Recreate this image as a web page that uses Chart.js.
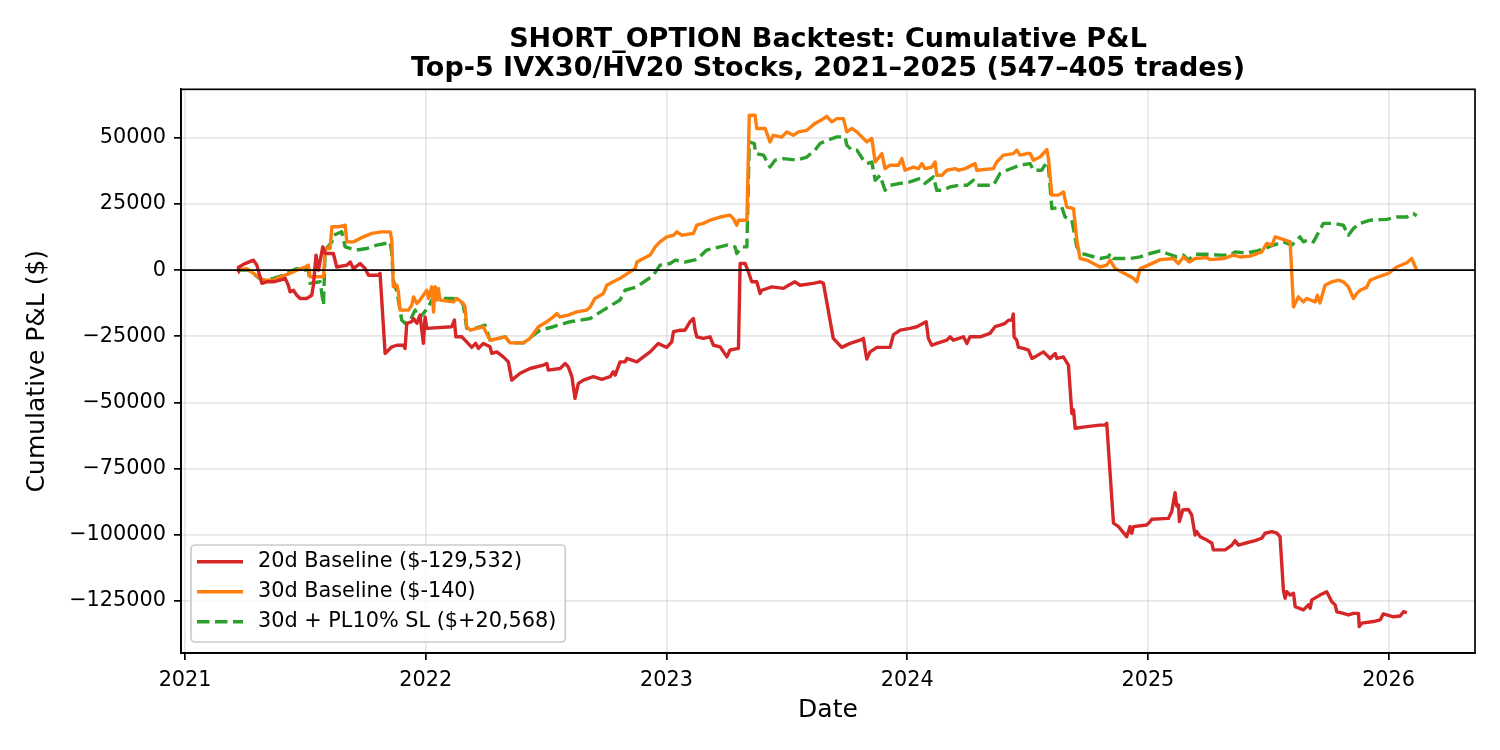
<!DOCTYPE html>
<html>
<head>
<meta charset="utf-8">
<script src="https://cdn.jsdelivr.net/npm/chart.js@4.4.1/dist/chart.umd.min.js"></script>
<style>
  html, body { margin: 0; padding: 0; background: #ffffff; }
  #wrap { width: 1500px; height: 750px; position: relative; }
</style>
</head>
<body>
<div id="wrap"><canvas id="c"></canvas></div>
<script>
// ---------- text ----------
const titleLines = ['SHORT_OPTION Backtest: Cumulative P&L', 'Top-5 IVX30/HV20 Stocks, 2021\u20132025 (547\u2013405 trades)'];
const xAxisTitle = 'Date';
const yAxisTitle = 'Cumulative P&L ($)';
const seriesLabels = ['20d Baseline ($-129,532)', '30d Baseline ($-140)', '30d + PL10% SL ($+20,568)'];

// ---------- ticks ----------
const xTickYears = [2021, 2022, 2023, 2024, 2025, 2026];
const yTickValues = [-125000, -100000, -75000, -50000, -25000, 0, 25000, 50000];

// ---------- series: 20d baseline (dates as decimal years, P&L in $) ----------
const red20dYears = [
  2021.220, 2021.222, 2021.249, 2021.284, 2021.298, 2021.319, 2021.339, 2021.367, 2021.395, 2021.416,
  2021.429, 2021.436, 2021.450, 2021.464, 2021.478, 2021.506, 2021.526, 2021.533, 2021.544, 2021.554,
  2021.572, 2021.582, 2021.616, 2021.630, 2021.672, 2021.686, 2021.699, 2021.727, 2021.748, 2021.762,
  2021.803, 2021.810, 2021.831, 2021.859, 2021.880, 2021.907, 2021.914, 2021.921, 2021.942, 2021.949,
  2021.963, 2021.976, 2021.990, 2021.997, 2022.004, 2022.108, 2022.119, 2022.125, 2022.150, 2022.163,
  2022.191, 2022.207, 2022.219, 2022.239, 2022.267, 2022.274, 2022.295, 2022.322, 2022.343, 2022.357,
  2022.392, 2022.433, 2022.489, 2022.503, 2022.509, 2022.558, 2022.579, 2022.592, 2022.607, 2022.620,
  2022.634, 2022.655, 2022.696, 2022.731, 2022.766, 2022.779, 2022.787, 2022.807, 2022.828, 2022.835,
  2022.877, 2022.904, 2022.932, 2022.966, 2022.981, 2023.001, 2023.022, 2023.029, 2023.057, 2023.077,
  2023.098, 2023.112, 2023.119, 2023.126, 2023.153, 2023.181, 2023.195, 2023.223, 2023.251, 2023.264,
  2023.299, 2023.306, 2023.327, 2023.340, 2023.354, 2023.375, 2023.389, 2023.396, 2023.438, 2023.486,
  2023.507, 2023.534, 2023.555, 2023.610, 2023.638, 2023.652, 2023.693, 2023.728, 2023.763, 2023.804,
  2023.818, 2023.832, 2023.846, 2023.874, 2023.929, 2023.943, 2023.971, 2024.012, 2024.040, 2024.067,
  2024.079, 2024.088, 2024.102, 2024.123, 2024.165, 2024.178, 2024.192, 2024.234, 2024.248, 2024.261,
  2024.303, 2024.344, 2024.365, 2024.386, 2024.407, 2024.421, 2024.435, 2024.441, 2024.444, 2024.455,
  2024.462, 2024.483, 2024.504, 2024.518, 2024.531, 2024.566, 2024.594, 2024.615, 2024.622, 2024.649,
  2024.670, 2024.684, 2024.691, 2024.698, 2024.746, 2024.801, 2024.822, 2024.829, 2024.857, 2024.878,
  2024.912, 2024.926, 2024.933, 2024.940, 2024.995, 2025.009, 2025.016, 2025.085, 2025.099, 2025.113,
  2025.120, 2025.127, 2025.131, 2025.145, 2025.168, 2025.182, 2025.196, 2025.203, 2025.217, 2025.245,
  2025.266, 2025.272, 2025.321, 2025.349, 2025.362, 2025.376, 2025.411, 2025.445, 2025.473, 2025.487,
  2025.515, 2025.536, 2025.549, 2025.563, 2025.570, 2025.577, 2025.591, 2025.605, 2025.612, 2025.646,
  2025.667, 2025.674, 2025.681, 2025.715, 2025.743, 2025.764, 2025.778, 2025.785, 2025.812, 2025.833,
  2025.854, 2025.875, 2025.878, 2025.889, 2025.937, 2025.965, 2025.978, 2026.020, 2026.048, 2026.062,
  2026.076
];
const red20dPnL = [
  -800, 1100, 2500, 3800, 1900, -5000, -4400, -4400, -3800, -3100,
  -5700, -8200, -7600, -9500, -10700, -10700, -9500, -5700, 5700, 0,
  8800, 6300, 6300, 1200, 1900, 3100, 600, 2500, 600, -1900,
  -1900, -1200, -31500, -29000, -28400, -28400, -29600, -20100, -19500, -18300,
  -20100, -17000, -27700, -17700, -22000, -21400, -18900, -25200, -25200, -26500,
  -29200, -27700, -29600, -27700, -29000, -31500, -30900, -32800, -34700, -41600,
  -39000, -37200, -35900, -35300, -37800, -37200, -35300, -36600, -40300, -48500,
  -42800, -41600, -40300, -41300, -40300, -38400, -39700, -34700, -34700, -33400,
  -34700, -32800, -30900, -27700, -28400, -29200, -27100, -23300, -22700, -22700,
  -19500, -18300, -22700, -25200, -25800, -25200, -28400, -29000, -32800, -30200,
  -29600, 2500, 2500, -600, -4400, -4400, -8800, -7600, -6300, -6900,
  -5700, -4400, -5700, -5000, -4400, -5000, -25800, -29200, -27700, -26500,
  -25800, -33600, -30900, -29200, -29200, -24400, -22700, -22000, -21400, -20100,
  -19500, -25800, -28400, -27700, -26500, -25200, -26500, -25200, -27700, -25200,
  -25200, -23900, -21400, -20800, -20100, -18900, -18900, -16600, -25200, -26500,
  -29200, -29600, -30200, -33400, -32800, -30900, -33400, -31500, -33400, -32800,
  -35900, -54200, -52900, -59800, -59200, -58600, -58600, -57900, -95700, -97000,
  -100800, -97000, -99500, -97000, -96400, -95100, -94200, -93900, -91400, -84200,
  -89200, -88800, -95100, -90700, -90500, -92600, -100200, -98900, -100800, -102100,
  -103300, -105800, -105800, -104000, -102300, -104000, -103100, -102300, -101400, -99500,
  -98900, -99500, -100800, -121000, -124100, -121600, -122900, -122200, -127300, -128500,
  -126600, -127900, -124700, -122900, -121600, -125400, -126600, -129200, -129800, -130400,
  -129800, -129800, -134800, -133500, -132900, -132300, -130000, -131100, -130800, -129200,
  -129532
];

// ---------- series: 30d baseline ----------
const orange30dYears = [
  2021.220, 2021.256, 2021.305, 2021.325, 2021.367, 2021.395, 2021.436, 2021.464, 2021.499, 2021.512,
  2021.519, 2021.575, 2021.582, 2021.602, 2021.610, 2021.637, 2021.665, 2021.672, 2021.699, 2021.741,
  2021.776, 2021.817, 2021.852, 2021.859, 2021.865, 2021.880, 2021.886, 2021.893, 2021.928, 2021.942,
  2021.949, 2021.963, 2021.976, 2022.004, 2022.011, 2022.025, 2022.032, 2022.039, 2022.046, 2022.052,
  2022.059, 2022.115, 2022.129, 2022.156, 2022.163, 2022.170, 2022.184, 2022.212, 2022.239, 2022.267,
  2022.330, 2022.350, 2022.406, 2022.433, 2022.468, 2022.503, 2022.530, 2022.544, 2022.558, 2022.592,
  2022.627, 2022.669, 2022.683, 2022.703, 2022.738, 2022.752, 2022.779, 2022.807, 2022.849, 2022.870,
  2022.877, 2022.904, 2022.932, 2022.953, 2022.973, 2023.001, 2023.029, 2023.043, 2023.064, 2023.112,
  2023.126, 2023.153, 2023.181, 2023.223, 2023.264, 2023.278, 2023.292, 2023.299, 2023.334, 2023.344,
  2023.368, 2023.375, 2023.410, 2023.430, 2023.444, 2023.479, 2023.500, 2023.527, 2023.548, 2023.583,
  2023.617, 2023.652, 2023.666, 2023.687, 2023.708, 2023.735, 2023.749, 2023.770, 2023.791, 2023.832,
  2023.853, 2023.867, 2023.895, 2023.908, 2023.929, 2023.964, 2023.978, 2023.991, 2024.026, 2024.047,
  2024.061, 2024.074, 2024.102, 2024.116, 2024.123, 2024.144, 2024.165, 2024.199, 2024.213, 2024.241,
  2024.282, 2024.289, 2024.358, 2024.372, 2024.400, 2024.441, 2024.455, 2024.469, 2024.497, 2024.511,
  2024.524, 2024.552, 2024.580, 2024.587, 2024.601, 2024.628, 2024.649, 2024.663, 2024.691, 2024.705,
  2024.718, 2024.746, 2024.801, 2024.829, 2024.843, 2024.864, 2024.940, 2024.954, 2024.968, 2025.002,
  2025.051, 2025.106, 2025.127, 2025.148, 2025.172, 2025.196, 2025.245, 2025.258, 2025.314, 2025.355,
  2025.383, 2025.425, 2025.473, 2025.494, 2025.515, 2025.529, 2025.549, 2025.591, 2025.605, 2025.625,
  2025.646, 2025.660, 2025.695, 2025.704, 2025.715, 2025.736, 2025.764, 2025.792, 2025.812, 2025.833,
  2025.854, 2025.868, 2025.882, 2025.909, 2025.923, 2025.958, 2025.999, 2026.034, 2026.076, 2026.096,
  2026.117
];
const orange30dPnL = [
  0, 600, -2500, -3800, -3800, -2500, -1200, 0, 1200, 1900,
  -2500, -2500, 8200, 8200, 16400, 16400, 17000, 10700, 10700, 12600,
  13900, 14500, 14500, 11300, -6300, -5700, -8200, -15100, -15100, -13200,
  -10100, -12600, -11300, -7600, -10700, -6300, -15800, -6300, -11300, -6900,
  -11300, -12000, -10700, -12600, -13900, -21400, -22700, -22000, -21400, -26500,
  -25200, -27500, -27500, -25800, -21400, -19500, -17700, -16400, -17700, -17000,
  -15800, -15100, -13900, -10700, -8800, -5700, -4400, -3100, -600, 600,
  3100, 4400, 5700, 8800, 10700, 12600, 13200, 14500, 13200, 13900,
  17000, 17700, 18900, 20100, 20800, 19500, 17000, 18900, 18900, 58600,
  58600, 53600, 53600, 48500, 51000, 50300, 52300, 51000, 52300, 52900,
  55500, 57300, 58200, 56100, 57300, 57300, 52300, 53600, 52300, 48500,
  49800, 40900, 44100, 38400, 39700, 39700, 42200, 37800, 39000, 38400,
  40300, 38400, 39000, 40900, 35900, 35900, 37800, 38400, 37800, 38400,
  40300, 37800, 38400, 40900, 43500, 44100, 45400, 43500, 44100, 44100,
  41600, 42800, 45600, 42200, 28400, 28400, 29600, 23900, 23300, 11300,
  4400, 3800, 1200, 1900, 3800, 600, -3100, -4400, 600, 1900,
  4000, 4400, 2500, 5000, 3100, 4400, 4800, 4000, 4400, 5700,
  5000, 5300, 6900, 10100, 9500, 12600, 12000, 10700, -13900, -10100,
  -12000, -10700, -12000, -9500, -12400, -5700, -4400, -3800, -4400, -6300,
  -10700, -8800, -7600, -6500, -3800, -2500, -1200, 1200, 2800, 4400,
  -140
];

// ---------- series: 30d + PL10% stop loss ----------
const green30dSLYears = [
  2021.220, 2021.263, 2021.291, 2021.319, 2021.367, 2021.408, 2021.464, 2021.499, 2021.512, 2021.519,
  2021.561, 2021.575, 2021.582, 2021.610, 2021.616, 2021.651, 2021.665, 2021.686, 2021.713, 2021.755,
  2021.776, 2021.796, 2021.831, 2021.852, 2021.859, 2021.865, 2021.880, 2021.886, 2021.900, 2021.914,
  2021.935, 2021.956, 2021.969, 2021.990, 2022.011, 2022.025, 2022.052, 2022.108, 2022.143, 2022.156,
  2022.170, 2022.205, 2022.246, 2022.267, 2022.330, 2022.350, 2022.406, 2022.447, 2022.475, 2022.530,
  2022.600, 2022.683, 2022.738, 2022.807, 2022.828, 2022.877, 2022.946, 2022.973, 2023.015, 2023.036,
  2023.077, 2023.126, 2023.167, 2023.251, 2023.285, 2023.292, 2023.313, 2023.334, 2023.344, 2023.365,
  2023.370, 2023.403, 2023.430, 2023.451, 2023.486, 2023.541, 2023.583, 2023.617, 2023.638, 2023.666,
  2023.708, 2023.742, 2023.749, 2023.770, 2023.791, 2023.818, 2023.832, 2023.853, 2023.867, 2023.887,
  2023.908, 2023.929, 2023.971, 2024.012, 2024.054, 2024.074, 2024.109, 2024.123, 2024.150, 2024.178,
  2024.213, 2024.248, 2024.275, 2024.289, 2024.358, 2024.386, 2024.414, 2024.469, 2024.511, 2024.524,
  2024.559, 2024.580, 2024.587, 2024.601, 2024.642, 2024.656, 2024.684, 2024.705, 2024.725, 2024.801,
  2024.836, 2024.843, 2024.857, 2024.926, 2024.968, 2025.009, 2025.051, 2025.079, 2025.120, 2025.148,
  2025.168, 2025.196, 2025.245, 2025.300, 2025.342, 2025.362, 2025.411, 2025.453, 2025.487, 2025.522,
  2025.563, 2025.598, 2025.632, 2025.646, 2025.667, 2025.688, 2025.729, 2025.771, 2025.812, 2025.833,
  2025.854, 2025.882, 2025.923, 2025.993, 2026.034, 2026.076, 2026.103, 2026.117
];
const green30dSLPnL = [
  0, 0, -1900, -3800, -3100, -1900, 600, 0, 600, -5000,
  -4400, -13200, 7600, 10700, 13200, 14500, 8800, 8200, 7600, 8200,
  8800, 9500, 10100, 10700, 6300, -3800, -8200, -11300, -18900, -20100,
  -18900, -15100, -18300, -16400, -13900, -11300, -10700, -10700, -11300, -13200,
  -22000, -22000, -20800, -26500, -25200, -27500, -27500, -24600, -22700, -21400,
  -19500, -18300, -15100, -11300, -7600, -6300, -1900, 1900, 2500, 3800,
  3100, 4000, 7600, 9500, 8800, 6300, 8800, 8800, 48500, 47900,
  44100, 43500, 39000, 41600, 42200, 41600, 42800, 45400, 47900, 49100,
  50400, 50400, 47300, 45400, 45400, 41600, 40300, 40900, 34000, 35900,
  30200, 32100, 32800, 33400, 34700, 32800, 35300, 30200, 30200, 31500,
  32100, 32100, 34000, 32100, 32100, 36600, 37800, 39700, 40300, 37800,
  37800, 40900, 39000, 23300, 23900, 20100, 18900, 8800, 6300, 4400,
  5000, 6300, 4400, 4400, 5000, 6300, 7300, 6300, 5000, 5700,
  3800, 6000, 6000, 5700, 5700, 6900, 6500, 7300, 8200, 9500,
  10700, 9500, 12600, 10700, 11600, 10700, 17700, 17700, 17000, 13200,
  15800, 17700, 18900, 19200, 20100, 20100, 21400, 20568
];

// ---------- axis ranges ----------
const xRange = [2020.983, 2026.359];
const yRange = [-144800, 68400];

const toPoints = (xs, ys) => xs.map((x, i) => ({ x: x, y: ys[i] }));

Chart.defaults.font.family = "'DejaVu Sans', sans-serif";
Chart.defaults.color = '#000000';

const frameAndZero = {
  id: 'frameAndZero',
  afterDatasetsDraw(chart) {
    const { ctx, chartArea: a, scales } = chart;
    const y0 = scales.y.getPixelForValue(0);
    ctx.save();
    ctx.strokeStyle = '#000000';
    ctx.lineWidth = 1.7;
    ctx.beginPath();
    ctx.moveTo(a.left, y0);
    ctx.lineTo(a.right, y0);
    ctx.stroke();
    ctx.strokeRect(a.left, a.top, a.right - a.left, a.bottom - a.top);
    ctx.restore();
  }
};

const boxLegend = {
  id: 'boxLegend',
  afterDraw(chart) {
    const { ctx, chartArea: a } = chart;
    const fontPx = 20.8;
    ctx.save();
    ctx.font = fontPx + "px 'DejaVu Sans', sans-serif";
    const maxW = Math.max(...chart.data.datasets.map(d => ctx.measureText(d.label).width));
    const left = a.left + 10;
    const bottom = a.bottom - 11;
    const rowH = 30;
    const h = 97;
    const top = bottom - h;
    const textX = left + 67;
    const w = (textX - left) + maxW + 9;
    ctx.beginPath();
    if (ctx.roundRect) ctx.roundRect(left, top, w, h, 4); else ctx.rect(left, top, w, h);
    ctx.fillStyle = 'rgba(255,255,255,0.8)';
    ctx.fill();
    ctx.strokeStyle = '#cccccc';
    ctx.lineWidth = 1.7;
    ctx.stroke();
    chart.data.datasets.forEach((d, i) => {
      const cy = top + 16.7 + i * rowH;
      ctx.beginPath();
      ctx.strokeStyle = d.borderColor;
      ctx.lineWidth = d.borderWidth;
      ctx.lineCap = 'butt';
      ctx.setLineDash(d.borderDash || []);
      ctx.moveTo(left + 6, cy);
      ctx.lineTo(left + 52, cy);
      ctx.stroke();
      ctx.setLineDash([]);
      ctx.fillStyle = '#000000';
      ctx.textAlign = 'left';
      ctx.textBaseline = 'middle';
      ctx.fillText(d.label, textX, cy);
    });
    ctx.restore();
  }
};

new Chart(document.getElementById('c'), {
  type: 'line',
  data: {
    datasets: [
      { label: seriesLabels[0], data: toPoints(red20dYears, red20dPnL), borderColor: '#d62728', borderWidth: 3.4,
        pointRadius: 0, tension: 0, fill: false, borderJoinStyle: 'round' },
      { label: seriesLabels[1], data: toPoints(orange30dYears, orange30dPnL), borderColor: '#ff7f0e', borderWidth: 3.4,
        pointRadius: 0, tension: 0, fill: false, borderJoinStyle: 'round' },
      { label: seriesLabels[2], data: toPoints(green30dSLYears, green30dSLPnL), borderColor: '#2ca02c', borderWidth: 3.4,
        borderDash: [12.5, 5.5], pointRadius: 0, tension: 0, fill: false, borderJoinStyle: 'round' }
    ]
  },
  options: {
    responsive: true,
    maintainAspectRatio: false,
    animation: false,
    devicePixelRatio: 1,
    layout: { padding: { left: 0, right: 25, top: 0, bottom: 0 } },
    plugins: {
      legend: { display: false },
      tooltip: { enabled: false },
      title: {
        display: true,
        text: titleLines,
        fullSize: false,
        color: '#000000',
        font: { size: 27, weight: 'bold', lineHeight: 1.08 },
        padding: { top: 25, bottom: 6 }
      }
    },
    scales: {
      x: {
        type: 'linear',
        min: xRange[0],
        max: xRange[1],
        afterFit(s) { s.height = 97; },
        afterBuildTicks(s) { s.ticks = xTickYears.map(v => ({ value: v })); },
        ticks: { callback: v => String(v), font: { size: 20.8 }, color: '#000000', padding: 8.5, maxRotation: 0, autoSkip: false },
        grid: { color: 'rgba(176,176,176,0.3)', lineWidth: 1.7, tickLength: 7, tickColor: '#000000', tickWidth: 1.7 },
        border: { color: '#000000', width: 1.7 },
        title: { display: true, text: xAxisTitle, color: '#000000', font: { size: 25 }, padding: { top: 0, bottom: 25 } }
      },
      y: {
        type: 'linear',
        min: yRange[0],
        max: yRange[1],
        afterFit(s) { s.width = 181; },
        afterBuildTicks(s) { s.ticks = yTickValues.map(v => ({ value: v })); },
        ticks: { callback: v => (v < 0 ? '\u2212' + Math.abs(v) : String(v)), font: { size: 20.8 }, color: '#000000', padding: 8, autoSkip: false },
        grid: { color: 'rgba(176,176,176,0.3)', lineWidth: 1.7, tickLength: 7, tickColor: '#000000', tickWidth: 1.7 },
        border: { color: '#000000', width: 1.7 },
        title: { display: true, text: yAxisTitle, color: '#000000', font: { size: 25 }, padding: { top: 22, bottom: 0 } }
      }
    }
  },
  plugins: [frameAndZero, boxLegend]
});
</script>
</body>
</html>
